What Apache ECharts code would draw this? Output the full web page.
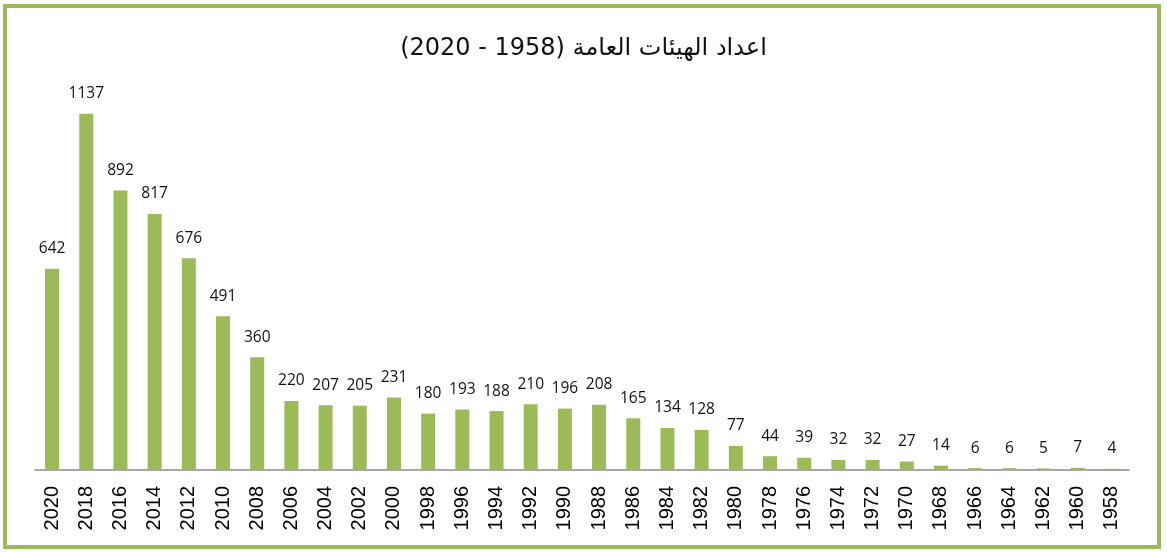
<!DOCTYPE html>
<html>
<head>
<meta charset="utf-8">
<script src="https://cdn.jsdelivr.net/npm/echarts@6/dist/echarts.min.js"></script>
<style>
  html, body { margin: 0; padding: 0; background: #fff; }
  #frame { position: absolute; left: 3px; top: 4px; width: 1150px; height: 537px; border: 4px solid #9bbb59; }
  #chart { width: 1167px; height: 552px; position: absolute; left: 0; top: 0; }
</style>
</head>
<body>
<div id="frame"></div>
<div id="chart"></div>
<script>
// السنوات وأعداد الهيئات
var years = ['2020', '2018', '2016', '2014', '2012', '2010', '2008', '2006', '2004', '2002',
  '2000', '1998', '1996', '1994', '1992', '1990', '1988', '1986', '1984', '1982',
  '1980', '1978', '1976', '1974', '1972', '1970', '1968', '1966', '1964', '1962', '1960', '1958'];
var counts = [642, 1137, 892, 817, 676, 491, 360, 220, 207, 205,
  231, 180, 193, 188, 210, 196, 208, 165, 134, 128,
  77, 44, 39, 32, 32, 27, 14, 6, 6, 5, 7, 4];
var titleText = 'اعداد الهيئات العامة (1958 - 2020)';

var myChart = echarts.init(document.getElementById('chart'));

var option = {
  animation: false,
  title: {
    text: titleText,
    left: 'center',
    top: 32,
    textStyle: { fontFamily: 'DejaVu Sans', fontSize: 24, fontWeight: 'normal', color: '#111' }
  },
  grid: { left: 35, right: 38, top: 94, bottom: 82 },
  xAxis: {
    type: 'category',
    data: years,
    axisLine: { lineStyle: { color: '#8c8c8c', width: 1.5 } },
    axisTick: { show: false },
    axisLabel: {
      rotate: 90,
      margin: 16,
      interval: 0,
      fontFamily: 'Liberation Sans',
      fontSize: 20,
      color: '#000'
    }
  },
  yAxis: {
    type: 'value',
    min: 0,
    max: 1200,
    show: false
  },
  series: [{
    type: 'bar',
    data: counts,
    barWidth: 14,
    itemStyle: { color: '#9bbb59' },
    label: {
      show: true,
      position: 'top',
      distance: 12,
      fontFamily: 'Open Sans',
      fontSize: 15.5,
      color: '#111'
    }
  }]
};

myChart.setOption(option);
</script>
</body>
</html>
